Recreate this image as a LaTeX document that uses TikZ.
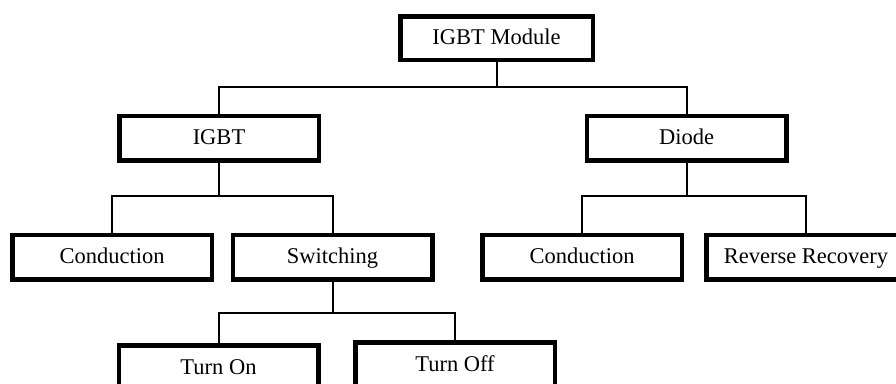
\documentclass[tikz,border=0pt]{standalone}
\usepackage{fontspec}
\setmainfont{Liberation Serif}
\usepackage{tikz}
\usetikzlibrary{shapes.geometric, arrows}
\tikzstyle{block} = [
    rectangle, 
    minimum width=199.5pt, 
    minimum height=44.5pt,
    inner sep=0pt,
    text height=18pt,
    text depth=5pt,
    text centered, 
    draw=black, 
    line width=4.5pt,
    font=\fontsize{22.5pt}{27pt}\selectfont
]
\tikzstyle{connector} = [
    line width=2pt
]

\begin{document}
\begin{tikzpicture}[node distance=100pt, auto]
        \useasboundingbox (0,0) rectangle (896pt,-383pt);
        \node (module) [block, minimum width=192.5pt, minimum height=43.5pt] at (496.5pt,-38pt) {IGBT Module};
        \node (igbt) [block, below of=module, xshift=-277.5pt] {IGBT};
        \node (diode) [block, below of=module, xshift=190pt] {Diode};
        \node (condL) [block, below of=igbt, xshift=-107pt, yshift=-19pt] {Conduction};
        \node (switch) [block, below of=igbt, xshift=113.5pt, yshift=-19pt] {Switching};
        \node (condR) [block, below of=diode, xshift=-104.5pt, yshift=-19pt] {Conduction};
        \node (recovery) [block, below of=diode, xshift=119.5pt, yshift=-19pt] {Reverse Recovery};
        \node (turnon) [block, below of=switch, xshift=-114pt, yshift=-10.5pt] {Turn On};
        \node (turnoff) [block, below of=switch, xshift=122.5pt, yshift=-7.5pt] {Turn Off};
        
        \draw[connector] (module.south) -- ++(0,-25pt) coordinate (bus1);
        \draw[connector] (igbt.north) |- (bus1) -| (diode.north);
        \draw[connector] (igbt.south) -- ++(0,-33pt) coordinate (bus2);
        \draw[connector] (condL.north) |- (bus2) -| (switch.north);
        \draw[connector] (diode.south) -- ++(0,-33pt) coordinate (bus3);
        \draw[connector] (condR.north) |- (bus3) -| (recovery.north);
        \draw[connector] (switch.south) -- ++(0,-31pt) coordinate (bus4);
        \draw[connector] (turnon.north) |- (bus4) -| (turnoff.north);
    \end{tikzpicture}
\end{document}
